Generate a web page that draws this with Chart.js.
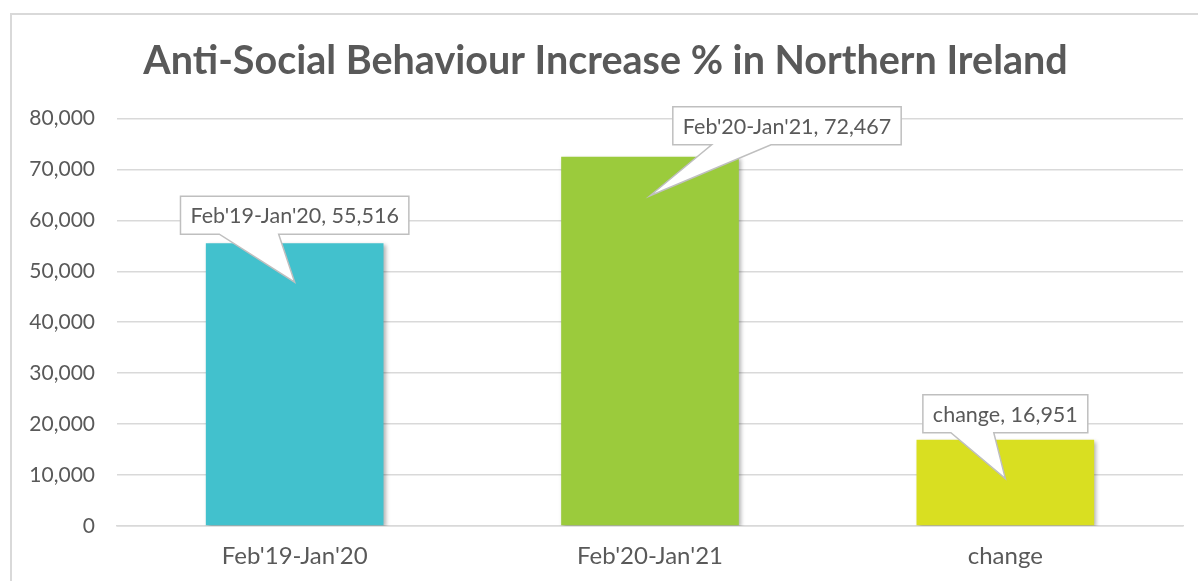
<!DOCTYPE html>
<html>
<head>
<meta charset="utf-8">
<script src="https://cdn.jsdelivr.net/npm/chart.js@4"></script>
<style>
  body { margin: 0; background: #fff; }
  #wrap { position: relative; width: 1198px; height: 581px; }
</style>
</head>
<body>
<div id="wrap"><canvas id="chart" width="1198" height="581"></canvas></div>
<script>
// chart data
const categories = ["Feb'19-Jan'20", "Feb'20-Jan'21", "change"];
const incidents = [55516, 72467, 16951];
const barColors = ['#42c1cd', '#9bcb3c', '#d9df21'];
const chartTitle = 'Anti-Social Behaviour Increase % in Northern Ireland';

const textGrey = '#595959';
const fontFamily = 'Lato, "Open Sans", sans-serif';

// callout placement (box offset from bar centre, gap above bar top)
const calloutOffsets = [
  { dx: 0, gap: 9 },
  { dx: 137, gap: 12 },
  { dx: 0, gap: 7 }
];

function fmt(v) {
  return v.toLocaleString('en-US');
}

// outer frame of the chart object
const framePlugin = {
  id: 'frame',
  beforeDraw(chart) {
    const ctx = chart.ctx;
    ctx.save();
    ctx.strokeStyle = '#d9d9d9';
    ctx.lineWidth = 2;
    ctx.strokeRect(11, 14, 1300, 700);
    ctx.restore();
  }
};

// soft shadow behind the bars
const shadowPlugin = {
  id: 'barShadow',
  beforeDatasetDraw(chart) {
    const ctx = chart.ctx;
    ctx.save();
    ctx.shadowColor = 'rgba(0,0,0,0.3)';
    ctx.shadowBlur = 4;
    ctx.shadowOffsetX = 2;
    ctx.shadowOffsetY = 2;
  },
  afterDatasetDraw(chart) {
    chart.ctx.restore();
  }
};

// Excel style callout labels
const calloutPlugin = {
  id: 'callouts',
  afterDatasetsDraw(chart) {
    const ctx = chart.ctx;
    const meta = chart.getDatasetMeta(0);
    ctx.save();
    ctx.font = '21.5px ' + fontFamily;
    ctx.textBaseline = 'middle';
    ctx.textAlign = 'center';
    meta.data.forEach((bar, i) => {
      const text = categories[i] + ', ' + fmt(incidents[i]);
      const off = calloutOffsets[i];
      const w = ctx.measureText(text).width + 20;
      const h = 38;
      const cx = bar.x + off.dx;
      const bottom = bar.y - off.gap;
      const left = cx - w / 2;
      const top = bottom - h;
      const tipX = bar.x;
      const tipY = bar.y + 39;
      const b1 = left + w * 0.17;
      const b2 = left + w * 0.43;

      ctx.beginPath();
      ctx.moveTo(left, top);
      ctx.lineTo(left + w, top);
      ctx.lineTo(left + w, bottom);
      ctx.lineTo(b2, bottom);
      ctx.lineTo(tipX, tipY);
      ctx.lineTo(b1, bottom);
      ctx.lineTo(left, bottom);
      ctx.closePath();
      ctx.fillStyle = '#ffffff';
      ctx.fill();
      ctx.strokeStyle = '#bfbfbf';
      ctx.lineWidth = 1.5;
      ctx.stroke();

      ctx.fillStyle = textGrey;
      ctx.fillText(text, cx, top + h / 2 + 1);
    });
    ctx.restore();
  }
};

new Chart(document.getElementById('chart'), {
  type: 'bar',
  data: {
    labels: categories,
    datasets: [{
      data: incidents,
      backgroundColor: barColors,
      categoryPercentage: 1,
      barPercentage: 0.5
    }]
  },
  options: {
    responsive: false,
    animation: false,
    layout: { padding: { left: 28, right: 15, top: 0, bottom: 0 } },
    plugins: {
      legend: { display: false },
      tooltip: { enabled: false },
      title: {
        display: true,
        text: chartTitle,
        color: textGrey,
        font: { family: fontFamily, size: 39.5, weight: 'bold' },
        padding: { top: 38, bottom: 33 }
      }
    },
    scales: {
      x: {
        grid: { display: false, drawTicks: false },
        border: { color: '#d9d9d9', width: 1.5 },
        ticks: { color: textGrey, font: { family: fontFamily, size: 24 }, padding: 16 },
        afterFit(s) {
          s.height = 55;
          s.paddingLeft = 0;
          s.paddingRight = 0;
        }
      },
      y: {
        min: 0,
        max: 80000,
        grid: { color: '#d9d9d9', lineWidth: 1.5, drawTicks: false },
        border: { display: false },
        ticks: {
          stepSize: 10000,
          color: textGrey,
          padding: 22,
          font: { family: fontFamily, size: 21 },
          callback: v => fmt(v)
        },
        afterFit(s) {
          s.width = 89;
          s.paddingTop = 0;
          s.paddingBottom = 0;
        }
      }
    }
  },
  plugins: [framePlugin, shadowPlugin, calloutPlugin]
});
</script>
</body>
</html>
